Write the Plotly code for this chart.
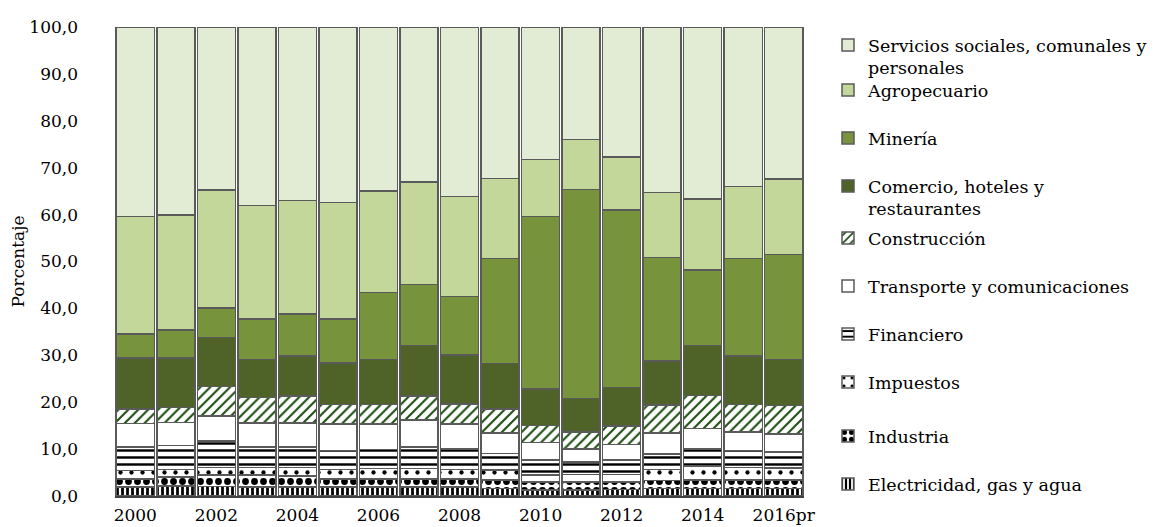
import plotly.graph_objects as go

# Years on the category axis (2016 is preliminary)
years = ["2000", "2001", "2002", "2003", "2004", "2005", "2006", "2007", "2008",
         "2009", "2010", "2011", "2012", "2013", "2014", "2015", "2016pr"]
tick_years = ["2000", "2002", "2004", "2006", "2008", "2010", "2012", "2014", "2016pr"]

# Sector shares of the total (%), stacked from the bottom up
electricidad = [1.9, 2.1, 2.0, 1.9, 1.9, 1.9, 1.9, 1.9, 1.9, 1.6, 1.3, 1.3, 1.4, 1.6, 1.6, 1.6, 1.6]
industria = [1.7, 2.0, 2.5, 2.6, 2.4, 1.7, 1.7, 1.7, 1.7, 1.8, 1.7, 1.7, 1.6, 1.7, 1.8, 1.8, 1.8]
impuestos = [1.8, 1.6, 1.6, 1.6, 1.8, 2.1, 2.3, 2.3, 2.1, 2.1, 1.5, 1.6, 1.6, 2.4, 3.0, 2.7, 2.6]
financiero = [5.1, 5.1, 5.6, 4.4, 4.4, 4.0, 4.0, 4.6, 4.3, 3.6, 3.2, 2.7, 3.1, 3.3, 3.6, 3.6, 3.4]
transporte = [5.0, 4.9, 5.4, 5.1, 5.1, 5.7, 5.5, 5.7, 5.3, 4.3, 3.7, 2.7, 3.3, 4.4, 4.4, 4.0, 3.8]
construccion = [3.1, 3.2, 6.2, 5.4, 5.7, 4.1, 4.1, 5.1, 4.3, 5.2, 3.6, 3.6, 3.9, 6.0, 7.0, 5.8, 6.1]
comercio = [10.8, 10.5, 10.5, 8.1, 8.5, 8.9, 9.6, 10.8, 10.5, 9.6, 7.8, 7.2, 8.2, 9.4, 10.7, 10.3, 9.8]
mineria = [5.1, 6.0, 6.3, 8.6, 9.0, 9.3, 14.3, 13.0, 12.4, 22.4, 36.8, 44.5, 37.9, 22.1, 16.1, 20.8, 22.4]
agropecuario = [25.1, 24.5, 25.1, 24.2, 24.2, 24.9, 21.6, 21.9, 21.4, 17.1, 12.1, 10.7, 11.3, 13.8, 15.1, 15.4, 16.1]
servicios = [40.4, 40.1, 34.8, 38.1, 37.0, 37.4, 35.0, 33.0, 36.1, 32.3, 28.3, 24.0, 27.7, 35.3, 36.7, 34.0, 32.4]

y_ticks = [0, 10, 20, 30, 40, 50, 60, 70, 80, 90, 100]
y_tick_labels = ["0,0", "10,0", "20,0", "30,0", "40,0", "50,0", "60,0", "70,0", "80,0", "90,0", "100,0"]

FONT = "DejaVu Serif"
FS = 17
LEG_FS = 17.5
EDGE = "#5a5a5a"


def pat(shape, fg, size, solidity):
    return dict(shape=shape, fgcolor=fg, bgcolor="white", fgopacity=1,
                size=size, solidity=solidity, fillmode="replace")


# (name, values, fill colour, pattern, legend slot centre in px from top)
series = [
    ("Electricidad, gas y agua", electricidad, "white", pat("|", "black", 5, 0.55), 484),
    ("Industria", industria, "white", pat(".", "black", 9, 0.45), 436),
    ("Impuestos", impuestos, "white", pat(".", "black", 11, 0.12), 382),
    ("Financiero", financiero, "white", pat("-", "black", 7, 0.35), 334),
    ("Transporte y comunicaciones", transporte, "white", None, 286),
    ("Construcción", construccion, "white", pat("/", "#1f4f14", 7, 0.3), 238),
    ("Comercio, hoteles y<br>restaurantes", comercio, "#4f6228", None, 186),
    ("Minería", mineria, "#77933c", None, 138),
    ("Agropecuario", agropecuario, "#c4d79b", None, 90),
    ("Servicios sociales, comunales y<br>personales", servicios, "#e2ebd3", None, 45),
]

ML, MR, MT, MB = 115, 356, 27, 31
W, H = 1160, 527
plot_w = W - ML - MR
plot_h = H - MT - MB

fig = go.Figure()
layout_legends = {}
for i, (name, vals, color, pattern, slot) in enumerate(series):
    key = "legend" if i == 0 else f"legend{i + 1}"
    marker = dict(color=color, line=dict(color=EDGE, width=1.5))
    if pattern:
        marker["pattern"] = pattern
    fig.add_trace(go.Bar(x=years, y=vals, name=name, marker=marker, legend=key))
    layout_legends[key] = dict(
        x=(828 - ML) / plot_w,
        y=(H - MB - (slot - 18)) / plot_h,
        xanchor="left", yanchor="top", valign="top",
        bgcolor="rgba(0,0,0,0)", borderwidth=0,
        font=dict(family=FONT, size=LEG_FS, color="black"),
        itemclick=False, itemdoubleclick=False,
    )

fig.update_layout(
    width=W, height=H,
    margin=dict(l=ML, r=MR, t=MT, b=MB, autoexpand=False),
    barmode="stack", bargap=0.06,
    plot_bgcolor="white", paper_bgcolor="white",
    font=dict(family=FONT, size=FS, color="black"),
    showlegend=True,
    **layout_legends,
)
fig.update_xaxes(
    type="category", tickmode="array", tickvals=tick_years, ticktext=tick_years,
    showline=True, linecolor="#404040", linewidth=1.5, showgrid=False, ticks="",
    tickfont=dict(family=FONT, size=FS), ticklabelstandoff=3, automargin=False,
)
fig.update_yaxes(
    range=[0, 100], tickmode="array", tickvals=y_ticks, ticktext=y_tick_labels,
    showgrid=False, zeroline=False, showline=False, ticks="",
    tickfont=dict(family=FONT, size=FS), ticklabelstandoff=36, automargin=False,
    title=dict(text="Porcentaje", font=dict(family=FONT, size=FS), standoff=0),
)

fig.write_html("out.html")
